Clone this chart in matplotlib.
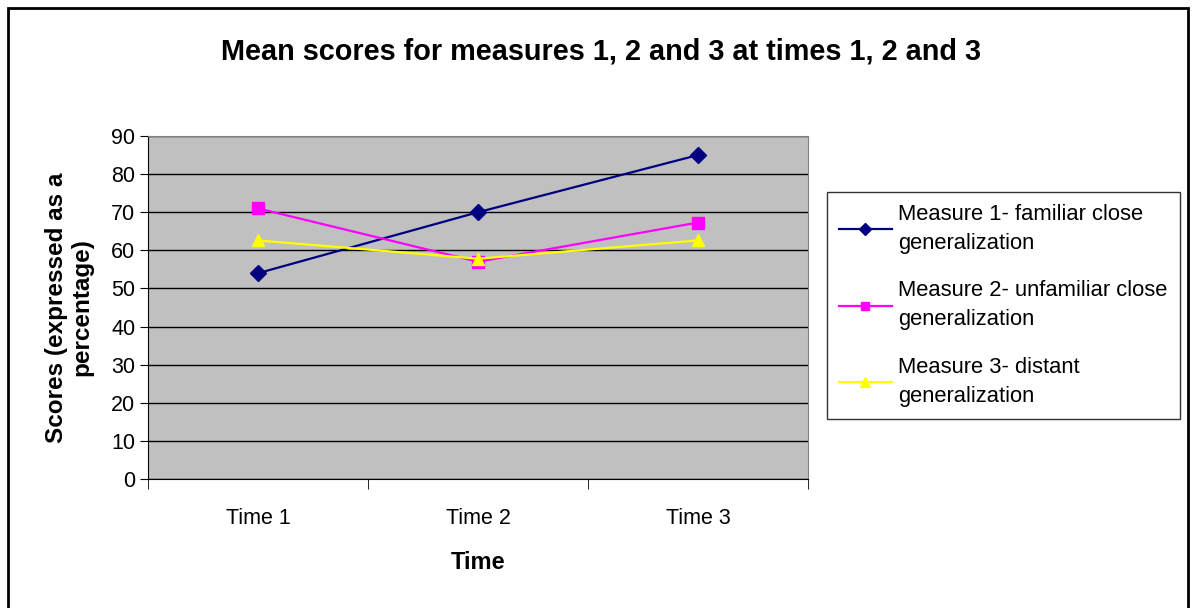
import matplotlib.pyplot as plt
from matplotlib.patches import Rectangle

# --- DATA ---
times = ["Time 1", "Time 2", "Time 3"]
measure1 = [54, 70, 85]
measure2 = [71, 57, 67.3]
measure3 = [62.6, 57.8, 62.6]
labels = [
    "Measure 1- familiar close\ngeneralization",
    "Measure 2- unfamiliar close\ngeneralization",
    "Measure 3- distant\ngeneralization",
]

plt.rcParams["font.family"] = ["Liberation Sans", "DejaVu Sans"]

fig = plt.figure(figsize=(11.94, 6.08), dpi=100)
fig.patches.append(Rectangle((8 / 1194, -0.01), 1180 / 1194, (608 - 8) / 608 + 0.01,
                             transform=fig.transFigure, fill=False, edgecolor="black", lw=2))

ax = fig.add_axes([148 / 1194, (608 - 479) / 608, 660 / 1194, 343 / 608])
ax.set_facecolor("#c0c0c0")
x = [1, 2, 3]
ax.plot(x, measure1, color="#000080", marker="D", markersize=8, lw=1.6, label=labels[0], zorder=3)
ax.plot(x, measure2, color="#ff00ff", marker="s", markersize=8, lw=1.6, label=labels[1], zorder=3)
ax.plot(x, measure3, color="#ffff00", marker="^", markersize=9, lw=1.6, label=labels[2], zorder=3)

ax.set_ylim(0, 90)
ax.set_yticks(range(0, 91, 10))
ax.set_xlim(0.5, 3.5)
ax.set_xticks(x)
ax.set_xticklabels(times)
ax.set_xticks([0.5, 1.5, 2.5, 3.5], minor=True)
ax.tick_params(axis="x", which="major", length=0, pad=21, labelsize=15.5)
ax.tick_params(axis="x", which="minor", length=7, direction="out")
ax.tick_params(axis="y", length=6, direction="out", labelsize=15.5, pad=3)
ax.yaxis.grid(True, color="black", lw=1)
ax.set_axisbelow(True)
for s in ["top", "right"]:
    ax.spines[s].set_color("#808080")
for s in ["left", "bottom"]:
    ax.spines[s].set_color("black")

ax.set_xlabel("Time", fontsize=17, fontweight="bold", labelpad=16)
ax.set_ylabel("Scores (expressed as a\npercentage)", fontsize=17.5, fontweight="bold",
              labelpad=13, linespacing=1.15)

fig.text(601 / 1194, 1 - 52 / 608, "Mean scores for measures 1, 2 and 3 at times 1, 2 and 3",
         ha="center", va="center", fontsize=20.8, fontweight="bold")

leg = fig.legend(loc="upper left", bbox_to_anchor=(827 / 1194, 1 - 192 / 608),
                 fontsize=15.8, frameon=True, fancybox=False, edgecolor="black",
                 handlelength=2.4, markerscale=0.75, labelspacing=1.2, borderpad=0.55,
                 handletextpad=0.3, borderaxespad=0)
leg.get_frame().set_linewidth(1)
for t in leg.get_texts():
    t.set_linespacing(1.5)

plt.savefig("out.png", dpi=100)
